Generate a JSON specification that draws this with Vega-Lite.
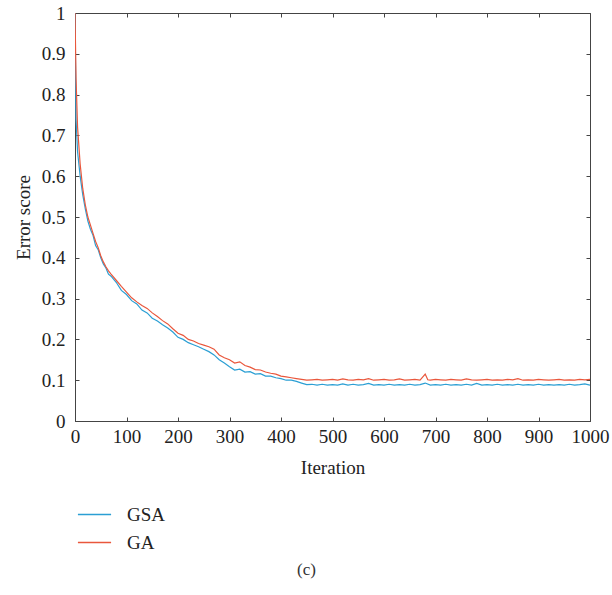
{
  "$schema": "https://vega.github.io/schema/vega-lite/v6.json",
  "width": 515,
  "height": 408,
  "autosize": {"type": "none"},
  "padding": {"left": 75, "top": 13, "right": 22, "bottom": 174},
  "background": "white",
  "config": {
    "font": "Liberation Serif",
    "view": {"stroke": "#444", "strokeWidth": 1},
    "axis": {"grid": false, "labelFont": "Liberation Serif", "titleFont": "Liberation Serif", "labelFontSize": 19, "titleFontSize": 19, "titleFontWeight": "normal", "labelColor": "#222", "titleColor": "#222", "domainColor": "#444", "tickColor": "#444", "tickSize": -4}
  },
  "title": {"text": "(c)", "orient": "bottom", "anchor": "middle", "font": "Liberation Serif", "fontSize": 17, "fontWeight": "normal", "color": "#333", "offset": 9, "dx": -26},
  "datasets": {
    "curves": [
      {"it":0,"s":"GSA","v":1.0},{"it":2,"s":"GSA","v":0.74},{"it":5,"s":"GSA","v":0.66},{"it":10,"s":"GSA","v":0.6},{"it":15,"s":"GSA","v":0.555},{"it":20,"s":"GSA","v":0.52},{"it":25,"s":"GSA","v":0.49},{"it":30,"s":"GSA","v":0.47},{"it":35,"s":"GSA","v":0.455},{"it":40,"s":"GSA","v":0.43},{"it":45,"s":"GSA","v":0.42},{"it":50,"s":"GSA","v":0.4},{"it":55,"s":"GSA","v":0.385},{"it":60,"s":"GSA","v":0.375},{"it":65,"s":"GSA","v":0.36},{"it":70,"s":"GSA","v":0.355},{"it":80,"s":"GSA","v":0.34},{"it":90,"s":"GSA","v":0.32},{"it":100,"s":"GSA","v":0.31},{"it":110,"s":"GSA","v":0.295},{"it":120,"s":"GSA","v":0.287},{"it":130,"s":"GSA","v":0.272},{"it":140,"s":"GSA","v":0.265},{"it":150,"s":"GSA","v":0.252},{"it":160,"s":"GSA","v":0.245},{"it":170,"s":"GSA","v":0.236},{"it":180,"s":"GSA","v":0.228},{"it":190,"s":"GSA","v":0.218},{"it":200,"s":"GSA","v":0.205},{"it":210,"s":"GSA","v":0.2},{"it":220,"s":"GSA","v":0.192},{"it":230,"s":"GSA","v":0.187},{"it":240,"s":"GSA","v":0.182},{"it":250,"s":"GSA","v":0.176},{"it":260,"s":"GSA","v":0.17},{"it":270,"s":"GSA","v":0.162},{"it":280,"s":"GSA","v":0.15},{"it":290,"s":"GSA","v":0.142},{"it":300,"s":"GSA","v":0.133},{"it":310,"s":"GSA","v":0.125},{"it":320,"s":"GSA","v":0.127},{"it":330,"s":"GSA","v":0.12},{"it":340,"s":"GSA","v":0.121},{"it":350,"s":"GSA","v":0.115},{"it":360,"s":"GSA","v":0.116},{"it":370,"s":"GSA","v":0.11},{"it":380,"s":"GSA","v":0.11},{"it":390,"s":"GSA","v":0.106},{"it":400,"s":"GSA","v":0.104},{"it":410,"s":"GSA","v":0.1},{"it":420,"s":"GSA","v":0.1},{"it":430,"s":"GSA","v":0.097},{"it":440,"s":"GSA","v":0.093},{"it":450,"s":"GSA","v":0.089},{"it":460,"s":"GSA","v":0.09},{"it":470,"s":"GSA","v":0.088},{"it":480,"s":"GSA","v":0.09},{"it":490,"s":"GSA","v":0.088},{"it":500,"s":"GSA","v":0.089},{"it":510,"s":"GSA","v":0.088},{"it":520,"s":"GSA","v":0.091},{"it":530,"s":"GSA","v":0.088},{"it":540,"s":"GSA","v":0.09},{"it":550,"s":"GSA","v":0.088},{"it":560,"s":"GSA","v":0.089},{"it":570,"s":"GSA","v":0.092},{"it":580,"s":"GSA","v":0.088},{"it":590,"s":"GSA","v":0.089},{"it":600,"s":"GSA","v":0.088},{"it":610,"s":"GSA","v":0.09},{"it":620,"s":"GSA","v":0.088},{"it":630,"s":"GSA","v":0.089},{"it":640,"s":"GSA","v":0.088},{"it":650,"s":"GSA","v":0.09},{"it":660,"s":"GSA","v":0.088},{"it":670,"s":"GSA","v":0.089},{"it":680,"s":"GSA","v":0.093},{"it":690,"s":"GSA","v":0.088},{"it":700,"s":"GSA","v":0.089},{"it":710,"s":"GSA","v":0.088},{"it":720,"s":"GSA","v":0.09},{"it":730,"s":"GSA","v":0.088},{"it":740,"s":"GSA","v":0.089},{"it":750,"s":"GSA","v":0.088},{"it":760,"s":"GSA","v":0.09},{"it":770,"s":"GSA","v":0.088},{"it":780,"s":"GSA","v":0.092},{"it":790,"s":"GSA","v":0.088},{"it":800,"s":"GSA","v":0.089},{"it":810,"s":"GSA","v":0.088},{"it":820,"s":"GSA","v":0.09},{"it":830,"s":"GSA","v":0.088},{"it":840,"s":"GSA","v":0.089},{"it":850,"s":"GSA","v":0.088},{"it":860,"s":"GSA","v":0.09},{"it":870,"s":"GSA","v":0.088},{"it":880,"s":"GSA","v":0.089},{"it":890,"s":"GSA","v":0.088},{"it":900,"s":"GSA","v":0.09},{"it":910,"s":"GSA","v":0.088},{"it":920,"s":"GSA","v":0.089},{"it":930,"s":"GSA","v":0.088},{"it":940,"s":"GSA","v":0.089},{"it":950,"s":"GSA","v":0.088},{"it":960,"s":"GSA","v":0.09},{"it":970,"s":"GSA","v":0.088},{"it":980,"s":"GSA","v":0.089},{"it":990,"s":"GSA","v":0.091},{"it":1000,"s":"GSA","v":0.088},
      {"it":0,"s":"GA","v":1.0},{"it":2,"s":"GA","v":0.84},{"it":5,"s":"GA","v":0.72},{"it":10,"s":"GA","v":0.63},{"it":15,"s":"GA","v":0.57},{"it":20,"s":"GA","v":0.53},{"it":25,"s":"GA","v":0.5},{"it":30,"s":"GA","v":0.48},{"it":35,"s":"GA","v":0.46},{"it":40,"s":"GA","v":0.44},{"it":45,"s":"GA","v":0.425},{"it":50,"s":"GA","v":0.405},{"it":55,"s":"GA","v":0.39},{"it":60,"s":"GA","v":0.378},{"it":65,"s":"GA","v":0.368},{"it":70,"s":"GA","v":0.36},{"it":80,"s":"GA","v":0.345},{"it":90,"s":"GA","v":0.33},{"it":100,"s":"GA","v":0.316},{"it":110,"s":"GA","v":0.302},{"it":120,"s":"GA","v":0.292},{"it":130,"s":"GA","v":0.283},{"it":140,"s":"GA","v":0.276},{"it":150,"s":"GA","v":0.265},{"it":160,"s":"GA","v":0.256},{"it":170,"s":"GA","v":0.246},{"it":180,"s":"GA","v":0.238},{"it":190,"s":"GA","v":0.226},{"it":200,"s":"GA","v":0.215},{"it":210,"s":"GA","v":0.21},{"it":220,"s":"GA","v":0.2},{"it":230,"s":"GA","v":0.196},{"it":240,"s":"GA","v":0.19},{"it":250,"s":"GA","v":0.186},{"it":260,"s":"GA","v":0.182},{"it":270,"s":"GA","v":0.176},{"it":280,"s":"GA","v":0.162},{"it":290,"s":"GA","v":0.155},{"it":300,"s":"GA","v":0.15},{"it":310,"s":"GA","v":0.142},{"it":320,"s":"GA","v":0.145},{"it":330,"s":"GA","v":0.136},{"it":340,"s":"GA","v":0.132},{"it":350,"s":"GA","v":0.126},{"it":360,"s":"GA","v":0.125},{"it":370,"s":"GA","v":0.12},{"it":380,"s":"GA","v":0.117},{"it":390,"s":"GA","v":0.115},{"it":400,"s":"GA","v":0.11},{"it":410,"s":"GA","v":0.108},{"it":420,"s":"GA","v":0.106},{"it":430,"s":"GA","v":0.104},{"it":440,"s":"GA","v":0.102},{"it":450,"s":"GA","v":0.1},{"it":460,"s":"GA","v":0.101},{"it":470,"s":"GA","v":0.102},{"it":480,"s":"GA","v":0.1},{"it":490,"s":"GA","v":0.101},{"it":500,"s":"GA","v":0.102},{"it":510,"s":"GA","v":0.1},{"it":520,"s":"GA","v":0.103},{"it":530,"s":"GA","v":0.101},{"it":540,"s":"GA","v":0.1},{"it":550,"s":"GA","v":0.102},{"it":560,"s":"GA","v":0.101},{"it":570,"s":"GA","v":0.104},{"it":580,"s":"GA","v":0.1},{"it":590,"s":"GA","v":0.101},{"it":600,"s":"GA","v":0.102},{"it":610,"s":"GA","v":0.1},{"it":620,"s":"GA","v":0.101},{"it":630,"s":"GA","v":0.103},{"it":640,"s":"GA","v":0.1},{"it":650,"s":"GA","v":0.101},{"it":660,"s":"GA","v":0.102},{"it":670,"s":"GA","v":0.1},{"it":680,"s":"GA","v":0.115},{"it":685,"s":"GA","v":0.101},{"it":690,"s":"GA","v":0.1},{"it":700,"s":"GA","v":0.102},{"it":710,"s":"GA","v":0.101},{"it":720,"s":"GA","v":0.1},{"it":730,"s":"GA","v":0.102},{"it":740,"s":"GA","v":0.101},{"it":750,"s":"GA","v":0.1},{"it":760,"s":"GA","v":0.103},{"it":770,"s":"GA","v":0.101},{"it":780,"s":"GA","v":0.1},{"it":790,"s":"GA","v":0.101},{"it":800,"s":"GA","v":0.102},{"it":810,"s":"GA","v":0.1},{"it":820,"s":"GA","v":0.101},{"it":830,"s":"GA","v":0.1},{"it":840,"s":"GA","v":0.102},{"it":850,"s":"GA","v":0.101},{"it":860,"s":"GA","v":0.104},{"it":870,"s":"GA","v":0.1},{"it":880,"s":"GA","v":0.101},{"it":890,"s":"GA","v":0.1},{"it":900,"s":"GA","v":0.102},{"it":910,"s":"GA","v":0.101},{"it":920,"s":"GA","v":0.1},{"it":930,"s":"GA","v":0.101},{"it":940,"s":"GA","v":0.102},{"it":950,"s":"GA","v":0.1},{"it":960,"s":"GA","v":0.101},{"it":970,"s":"GA","v":0.1},{"it":980,"s":"GA","v":0.102},{"it":990,"s":"GA","v":0.101},{"it":1000,"s":"GA","v":0.102}
    ]
  },
  "data": {"name": "curves"},
  "resolve": {"axis": {"x": "independent", "y": "independent"}},
  "layer": [
    {
      "mark": {"type": "line", "strokeWidth": 1.2, "clip": true},
      "encoding": {
        "x": {"field": "it", "type": "quantitative", "scale": {"domain": [0, 1000], "nice": false, "zero": false},
              "axis": {"orient": "bottom", "title": "Iteration", "values": [0,100,200,300,400,500,600,700,800,900,1000], "format": "d", "labelFont": "Liberation Serif", "labelFontSize": 19, "titleFontSize": 19, "labelPadding": 10, "titlePadding": 12, "labelFlush": false, "domain": true}},
        "y": {"field": "v", "type": "quantitative", "scale": {"domain": [0, 1], "nice": false},
              "axis": {"orient": "left", "title": "Error score", "values": [0,0.1,0.2,0.3,0.4,0.5,0.6,0.7,0.8,0.9,1], "format": ".1~f", "labelFont": "Liberation Serif", "labelFontSize": 19, "titleFontSize": 19, "labelPadding": 14, "titlePadding": 8, "labelFlush": false}},
        "color": {"field": "s", "type": "nominal",
                  "scale": {"domain": ["GSA", "GA"], "range": ["#2b9fd4", "#e9573c"]},
                  "legend": {"title": null, "orient": "none", "legendX": 2, "legendY": 484, "symbolType": "stroke", "symbolSize": 1100, "symbolStrokeWidth": 1.6, "labelFont": "Liberation Serif", "labelFontSize": 19, "labelColor": "#222", "labelOffset": 15, "rowPadding": 0, "padding": 0}}
      }
    },
    {
      "mark": {"type": "line", "opacity": 0},
      "encoding": {
        "x": {"field": "it", "type": "quantitative", "axis": {"orient": "top", "title": null, "labels": false, "domain": false, "values": [0,100,200,300,400,500,600,700,800,900,1000]}},
        "y": {"field": "v", "type": "quantitative", "axis": {"orient": "right", "title": null, "labels": false, "domain": false, "values": [0,0.1,0.2,0.3,0.4,0.5,0.6,0.7,0.8,0.9,1]}}
      }
    }
  ]
}
